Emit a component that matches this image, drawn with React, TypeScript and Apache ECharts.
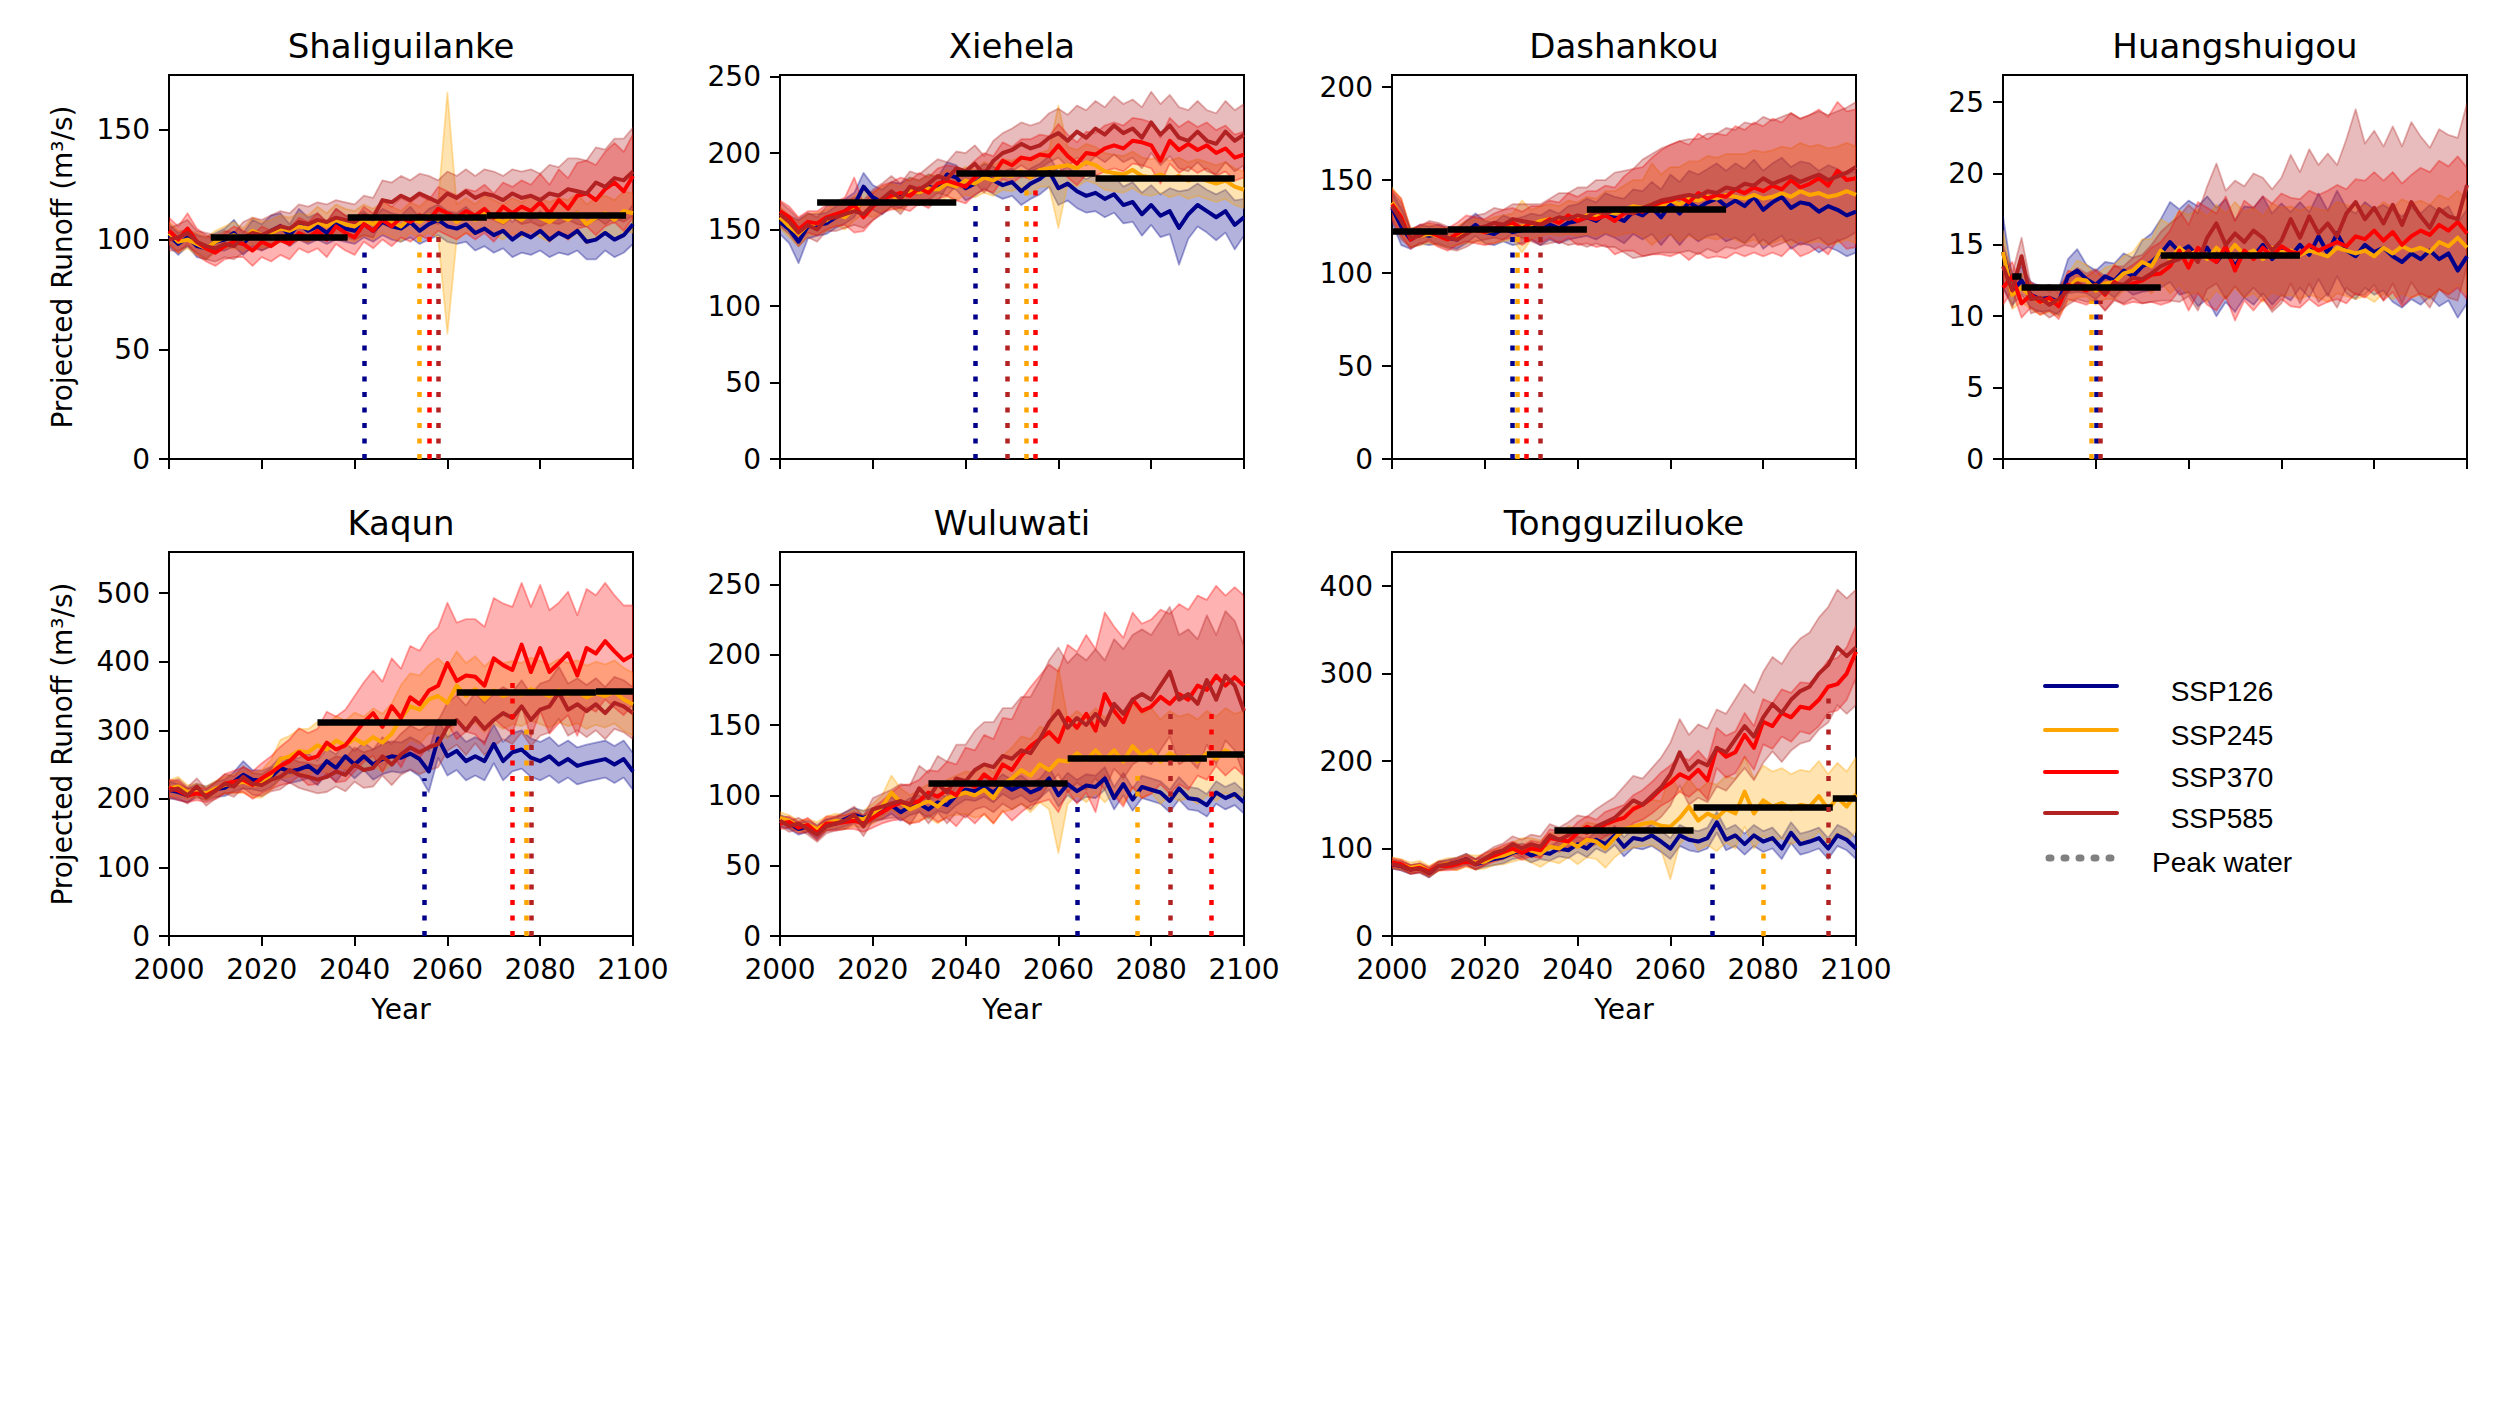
import React, { useEffect, useRef } from "react";
import * as echarts from "echarts";

const YEARS = [
  2000, 2002, 2004, 2006, 2008, 2010, 2012, 2014, 2016, 2018,
  2020, 2022, 2024, 2026, 2028, 2030, 2032, 2034, 2036, 2038,
  2040, 2042, 2044, 2046, 2048, 2050, 2052, 2054, 2056, 2058,
  2060, 2062, 2064, 2066, 2068, 2070, 2072, 2074, 2076, 2078,
  2080, 2082, 2084, 2086, 2088, 2090, 2092, 2094, 2096, 2098,
  2100,
];

// ---------------- Shaliguilanke ----------------
const SHA_126 = [102,98,101,97,96,99,100,103,98,103, 101,104,106,102,107,104,106,103,107,105, 104,107,104,108,106,105,108,104,107,109, 106,105,107,103,105,102,104,100,103,101, 104,100,103,101,104,99,100,103,100,102, 107];
const SHA_126_SD = [5,5,4,5,5,4,5,6,5,6, 6,7,6,5,7,6,6,5,7,6, 6,6,5,6,6,6,7,6,7,7, 7,7,8,8,8,8,8,8,9,8, 9,8,9,8,9,8,9,8,8,8, 9];
const SHA_245 = [103,99,100,98,96,99,101,102,100,104, 102,103,105,104,106,105,108,106,109,107, 106,109,107,110,108,106,110,108,111,109, 112,108,111,109,112,110,108,111,109,112, 110,108,111,109,112,107,110,112,109,113, 112];
const SHA_245_SD = [5,5,4,5,5,5,5,6,5,6, 6,6,6,6,6,6,7,6,7,7, 7,7,7,7,7,7,7,7,8,8, 55,8,8,7,8,8,8,8,8,8, 9,9,8,9,9,9,9,8,9,9, 9];
const SHA_370 = [104,100,105,99,96,94,97,99,98,95, 99,97,100,98,103,101,104,100,106,103, 101,107,104,109,106,110,108,111,109,114, 112,110,113,111,114,110,115,112,115,113, 117,112,118,114,120,121,118,123,126,122, 129];
const SHA_370_SD = [6,6,7,6,6,6,6,7,6,7, 7,7,7,7,7,7,8,8,8,8, 8,8,8,9,9,9,9,9,9,10, 10,10,10,11,11,11,11,12,12,12, 13,13,14,14,15,15,16,17,18,18, 19];
const SHA_585 = [100,101,103,99,97,96,98,97,101,103, 102,104,106,105,108,107,109,108,110,109, 108,111,110,118,117,120,118,121,119,117, 121,119,122,119,121,120,118,121,119,120, 118,121,120,123,122,121,126,124,128,127, 131];
const SHA_585_SD = [5,6,6,5,6,6,6,6,7,7, 7,7,7,7,8,8,8,8,8,8, 8,9,9,9,9,9,9,9,10,10, 10,10,10,10,11,11,11,11,12,12, 12,13,13,14,15,15,16,17,18,19, 20];
const SHA_BARS = [[2009, 2038.5, 101], [2038.5, 2068.5, 110], [2068.5, 2098.5, 111.2]];
const SHA_PEAKS = [[0, 2042, 97], [1, 2054, 103], [2, 2056, 104], [3, 2058, 104]];

// ---------------- Xiehela ----------------
const XIE_126 = [155,150,142,152,153,154,158,162,166,178, 171,168,173,172,176,174,178,176,186,184, 177,180,185,182,179,181,175,180,183,188, 177,180,175,172,174,170,173,166,168,160, 166,159,162,151,160,166,162,158,162,153, 158];
const XIE_126_SD = [8,9,14,8,7,7,7,8,8,9, 8,8,8,8,8,8,8,8,8,8, 8,8,8,9,9,9,9,10,10,10, 11,11,11,11,12,12,12,12,13,14, 13,14,15,24,16,14,14,15,14,16, 12];
const XIE_245 = [158,152,147,153,154,156,160,158,164,168, 166,170,172,170,176,174,177,176,180,178, 182,180,184,182,186,185,188,184,189,190, 191,192,190,194,192,188,187,186,189,185, 184,186,183,185,182,184,182,180,182,178, 176];
const XIE_245_SD = [7,7,8,7,7,7,7,8,8,8, 8,8,8,8,8,8,9,9,9,9, 9,9,10,10,10,10,10,11,11,12, 40,12,12,12,12,12,12,12,12,12, 12,12,12,12,12,12,12,12,12,12, 12];
const XIE_370 = [162,158,150,155,154,158,160,162,166,158, 165,170,172,174,172,177,174,180,182,180, 178,184,188,186,195,192,197,196,199,198, 205,198,193,200,199,203,205,203,208,207, 205,195,208,202,206,202,205,200,203,197, 199];
const XIE_370_SD = [7,7,8,7,8,8,8,9,18,9, 9,9,9,10,10,10,10,10,10,11, 11,11,12,12,12,12,12,13,13,13, 14,14,14,14,14,15,15,15,15,15, 15,15,15,15,15,15,15,15,15,15, 15];
const XIE_585 = [160,155,148,153,150,157,158,160,162,160, 166,170,175,170,178,176,180,185,183,190, 188,193,186,195,200,202,206,203,205,210, 213,208,214,210,216,212,218,213,216,210, 220,212,218,210,208,214,208,206,214,208, 212];
const XIE_585_SD = [8,8,9,8,8,8,9,9,9,9, 10,10,10,10,10,10,11,11,11,11, 12,12,12,13,13,14,14,15,15,16, 16,17,17,18,18,18,19,19,19,20, 20,20,20,20,20,20,20,20,20,20, 20];
const XIE_BARS = [[2008, 2038, 168], [2038, 2068, 186.5], [2068, 2098, 183.5]];
const XIE_PEAKS = [[0, 2042, 168], [3, 2049, 170], [1, 2053, 178], [2, 2055, 178]];

// ---------------- Dashankou ----------------
const DAS_126 = [135,125,118,121,120,121,119,118,122,126, 122,121,124,122,123,125,123,126,124,127, 128,130,128,132,130,128,133,131,135,130, 137,132,138,135,138,140,136,139,136,141, 134,138,141,135,138,137,133,136,134,131, 133];
const DAS_126_SD = [8,10,5,5,5,5,5,5,6,6, 6,6,7,7,7,7,8,8,8,9, 9,10,10,11,11,12,12,13,14,15, 16,17,17,18,18,19,19,20,20,20, 21,21,21,22,22,22,22,22,22,22, 22];
const DAS_245 = [138,130,119,120,121,120,119,120,122,123, 122,123,124,125,125,126,128,129,128,130, 129,131,130,133,132,134,136,135,137,136, 139,137,140,139,141,140,142,141,140,142, 140,141,143,141,144,142,143,141,142,144, 142];
const DAS_245_SD = [8,10,5,5,5,5,5,5,6,6, 6,7,7,7,14,8,8,8,8,9, 9,10,10,11,12,13,14,15,22,17, 18,20,20,21,22,22,22,23,24,24, 25,25,25,26,26,26,26,26,26,26, 26];
const DAS_370 = [137,130,118,121,122,120,118,121,124,123, 122,124,126,127,124,127,126,129,127,131, 128,130,129,131,128,132,134,133,136,138, 139,141,138,143,140,142,141,145,143,146, 144,147,145,150,146,148,151,147,155,150, 151];
const DAS_370_SD = [8,10,5,5,5,6,6,6,7,7, 7,8,8,8,9,9,10,10,11,12, 13,14,15,16,18,20,22,24,26,28, 30,30,31,32,32,33,33,34,34,35, 35,36,36,36,37,37,37,37,37,37, 37];
const DAS_585 = [136,128,119,120,123,121,119,118,121,124, 125,127,126,129,128,127,126,128,130,129, 131,130,133,132,134,133,132,135,137,139, 140,141,142,141,144,143,146,145,148,147, 151,148,150,152,149,151,153,150,152,154, 157];
const DAS_585_SD = [8,10,5,5,5,6,6,6,7,7, 7,8,8,8,9,10,11,12,13,14, 15,16,17,18,20,22,24,26,27,28, 29,30,30,31,31,32,32,32,33,33, 33,34,34,34,34,34,34,35,35,35, 35];
const DAS_BARS = [[2000, 2012, 122.5], [2012, 2042, 123.5], [2042, 2072, 134.5]];
const DAS_PEAKS = [[0, 2026, 121], [1, 2027, 121], [2, 2029, 121], [3, 2032, 121]];

// ---------------- Huangshuigou ----------------
const HUA_126 = [14.5,11.8,12.5,11.5,11.2,11.3,11.0,12.8,13.2,12.6, 12.2,12.8,12.5,13.2,12.8,13.5,13.8,14.4,15.2,14.5, 14.9,14.2,14.8,13.8,14.6,13.5,14.5,14.2,15.0,14.0, 14.7,14.2,15.0,14.3,15.6,14.4,15.8,14.6,14.2,15.0, 14.5,14.8,14.2,13.8,14.4,14.0,14.6,14.0,14.4,13.2, 14.2];
const HUA_126_SD = [2.5,1.0,1.0,0.9,0.9,0.9,0.9,1.2,1.5,1.0, 1.0,1.0,1.2,1.2,1.3,1.8,2.0,2.4,2.8,3.0, 3.2,3.5,3.6,3.8,3.6,3.2,3.2,3.4,3.4,3.2, 3.2,3.1,3.0,3.0,3.0,3.0,3.0,3.0,3.0,3.0, 3.0,3.0,3.2,3.2,3.2,3.2,3.2,3.3,3.3,3.3, 3.3];
const HUA_245 = [14.5,11.5,12.0,11.4,11.0,11.2,10.9,12.0,12.6,12.5, 11.8,12.3,12.4,13.0,13.2,13.8,13.5,14.6,14.0,14.8, 14.3,14.6,14.0,14.8,14.2,15.0,14.3,14.6,14.0,14.8, 14.5,14.6,14.3,14.6,14.4,14.2,14.8,14.6,14.4,14.6, 14.2,14.8,14.4,14.9,14.6,14.8,14.5,15.2,14.9,15.5, 14.8];
const HUA_245_SD = [1.5,1.0,1.0,0.9,0.9,0.9,0.9,1.0,1.3,1.1, 1.0,1.1,1.2,1.2,1.3,1.6,1.9,2.2,2.4,2.6, 2.8,2.9,3.0,3.0,3.0,3.0,3.0,3.0,3.0,3.1, 3.1,3.1,3.1,3.1,3.1,3.2,3.2,3.2,3.2,3.2, 3.2,3.2,3.2,3.3,3.3,3.3,3.3,3.3,3.3,3.3, 3.3];
const HUA_370 = [12.0,12.8,10.9,11.5,11.0,11.3,10.7,12.2,12.0,11.8, 12.2,11.5,12.4,12.0,12.3,12.5,12.9,13.0,13.5,14.6, 13.4,14.8,14.2,13.8,14.9,13.2,14.6,14.0,14.8,14.2, 14.9,14.5,14.4,15.0,14.6,14.9,15.2,14.9,15.6,15.4, 16.0,15.3,15.9,15.0,15.6,16.0,15.7,16.4,16.0,16.6, 15.8];
const HUA_370_SD = [1.2,1.0,1.0,0.9,0.9,0.9,0.9,1.0,1.0,1.0, 1.0,1.1,1.2,1.2,1.3,1.6,1.9,2.2,2.5,2.8, 3.0,3.2,3.4,3.4,3.5,3.5,3.5,3.6,3.6,3.7, 3.7,3.8,3.8,3.8,3.9,3.9,4.0,4.0,4.0,4.1, 4.1,4.2,4.2,4.3,4.3,4.4,4.4,4.5,4.5,4.6, 4.6];
const HUA_585 = [13.5,11.8,14.2,11.2,11.3,10.8,11.2,11.8,12.3,12.0, 12.2,11.6,12.3,12.2,12.7,12.6,13.0,13.5,13.8,14.0, 14.6,13.8,15.5,16.5,15.0,15.8,15.2,16.0,15.5,14.6, 15.3,16.8,15.5,17.0,15.8,16.5,15.6,17.2,18.0,16.8, 17.6,16.5,17.8,16.4,18.0,17.0,16.2,17.5,17.0,16.8, 19.2];
const HUA_585_SD = [1.5,1.2,1.3,1.0,0.9,0.9,0.9,1.0,1.1,1.0, 1.1,1.2,1.2,1.3,1.4,1.7,2.0,2.4,2.7,3.0, 3.2,3.4,3.6,4.2,3.8,3.7,3.9,4.0,4.2,4.3, 4.4,4.5,4.6,4.7,4.8,4.9,5.0,5.2,6.5,5.3, 5.4,5.4,5.5,5.5,5.6,5.6,5.6,5.6,5.7,5.7, 5.7];
const HUA_BARS = [[2002, 2004, 12.8], [2004, 2034, 12.0], [2034, 2064, 14.3]];
const HUA_PEAKS = [[1, 2019, 11.1], [0, 2020, 11.1], [3, 2021, 11.1]];

// ---------------- Kaqun ----------------
const KAQ_126 = [213,210,205,212,208,214,216,225,235,228, 226,232,245,240,243,248,238,255,245,262, 250,262,250,258,262,260,266,258,240,288, 262,270,255,262,255,280,255,268,272,260, 255,262,250,258,248,252,255,258,250,258, 240];
const KAQ_126_SD = [12,12,10,10,10,11,12,14,20,14, 15,15,16,17,17,18,18,18,20,20, 20,20,22,22,22,22,24,25,30,28, 28,28,28,28,28,28,28,28,28,28, 28,28,27,27,27,27,27,27,27,27, 27];
const KAQ_245 = [215,218,210,212,208,215,220,222,225,220, 222,235,258,262,270,268,278,272,285,278, 288,280,290,282,295,318,335,330,345,350, 340,365,350,360,345,358,350,355,352,360, 355,350,358,352,356,348,354,350,356,345, 338];
const KAQ_245_SD = [12,14,10,10,10,11,12,14,16,18, 20,22,28,30,32,34,34,35,36,36, 38,40,42,42,44,48,48,50,50,55, 52,50,48,48,48,48,48,46,46,46, 46,46,46,46,46,46,46,46,46,46, 46];
const KAQ_370 = [216,212,205,208,205,212,222,225,228,220, 230,238,248,255,268,258,262,282,272,278, 295,312,325,305,335,318,348,338,358,365, 398,372,380,378,365,405,395,388,425,385, 420,385,398,412,380,420,412,430,415,402, 410];
const KAQ_370_SD = [12,14,10,10,10,12,14,16,18,20, 22,24,28,32,35,38,40,45,48,52, 55,58,62,66,70,72,75,78,80,85, 88,85,82,84,86,88,90,92,90,95, 92,90,88,90,88,86,85,85,82,80, 72];
const KAQ_585 = [212,215,205,218,202,212,222,218,232,222, 220,228,232,242,235,232,228,232,240,235, 250,242,245,262,250,265,275,268,275,280, 305,315,300,318,302,315,325,318,335,315, 330,335,355,330,338,328,338,325,340,335, 325];
const KAQ_585_SD = [12,14,12,12,12,12,14,15,16,16, 16,17,18,18,19,20,20,22,22,24, 25,26,27,28,30,30,32,32,33,34, 35,36,36,37,38,38,38,38,38,38, 38,38,38,38,38,38,38,38,38,38, 38];
const KAQ_BARS = [[2032, 2062, 311.6], [2062, 2092, 355], [2092, 2100, 357]];
const KAQ_PEAKS = [[0, 2055, 230], [2, 2074, 373], [1, 2077, 305], [3, 2078, 305]];

// ---------------- Wuluwati ----------------
const WUL_126 = [82,80,76,78,74,79,80,83,86,84, 86,88,93,88,92,94,90,95,93,100, 104,103,106,102,108,104,107,102,105,112, 100,108,103,107,106,112,98,108,97,106, 104,102,96,105,98,97,93,102,98,101, 95];
const WUL_126_SD = [4,4,4,4,5,4,4,5,5,5, 5,5,6,6,6,6,6,6,6,7, 7,7,7,7,7,7,7,7,7,8, 8,8,8,8,8,8,8,8,8,8, 8,8,8,8,8,8,8,8,8,8, 8];
const WUL_245 = [84,82,78,79,76,80,82,81,84,83, 87,92,102,95,90,93,96,92,98,100, 102,100,104,98,108,112,118,114,122,118, 125,124,130,125,132,125,132,124,135,128, 132,124,130,126,128,124,130,126,132,128, 130];
const WUL_245_SD = [4,4,4,4,5,5,5,5,6,6, 7,8,12,10,10,11,12,12,13,14, 15,16,18,18,20,22,24,26,27,28, 66,30,30,30,30,30,30,30,30,30, 30,30,30,30,30,30,30,30,30,30, 30];
const WUL_370 = [80,81,77,79,73,80,80,81,82,80, 84,88,92,95,94,96,102,99,104,100, 110,106,115,110,122,118,128,135,140,145, 138,155,148,158,146,172,160,152,168,160, 163,170,165,172,168,178,175,185,178,184, 178];
const WUL_370_SD = [4,4,4,5,5,5,5,5,6,6, 7,8,10,12,14,15,16,18,20,22, 24,26,28,30,33,36,40,42,45,48, 50,52,54,56,58,58,60,60,62,62, 62,62,64,64,64,64,64,64,64,64, 64];
const WUL_585 = [82,78,80,76,72,78,80,82,86,78, 90,92,94,96,93,105,98,108,102,112, 110,118,122,120,128,126,132,130,140,152, 160,148,155,150,158,150,165,158,168,172, 168,178,188,168,172,165,182,168,185,178, 160];
const WUL_585_SD = [4,4,4,4,5,5,5,6,6,7, 8,9,10,12,14,16,18,20,22,24, 26,28,30,32,34,36,38,40,42,44, 45,46,46,46,46,46,46,46,46,46, 46,46,46,46,46,46,46,46,46,46, 46];
const WUL_BARS = [[2032, 2062, 108.4], [2062, 2092, 126.7], [2092, 2100, 129.3]];
const WUL_PEAKS = [[0, 2064, 93], [1, 2077, 115], [3, 2084, 160], [2, 2093, 160]];

// ---------------- Tongguziluoke ----------------
const TON_126 = [82,80,76,78,72,80,82,84,88,82, 85,88,90,95,98,92,96,94,100,98, 105,100,110,105,115,102,112,110,115,108, 100,115,110,108,112,130,110,115,105,115, 108,112,100,118,105,108,112,100,115,110, 100];
const TON_126_SD = [5,5,5,5,5,5,5,5,6,6, 6,7,7,7,8,8,8,8,9,9, 9,10,10,10,11,11,11,11,12,12, 12,12,12,12,12,12,12,12,12,12, 12,12,12,12,12,12,12,12,12,12, 12];
const TON_245 = [84,82,78,80,74,80,83,82,86,84, 85,90,92,96,100,98,94,102,100,108, 102,110,108,100,112,122,125,128,130,126, 125,135,148,132,140,135,145,140,165,140, 155,148,152,145,150,148,160,145,158,148, 162];
const TON_245_SD = [6,6,6,6,6,6,6,7,7,8, 8,9,10,11,12,14,15,16,17,18, 20,20,20,22,22,24,24,25,26,28, 60,30,32,34,36,38,38,40,40,40, 40,40,40,40,40,40,40,40,40,40, 42];
const TON_370 = [84,82,76,78,74,80,80,82,86,82, 88,92,96,100,95,100,98,112,110,108, 118,125,120,128,132,135,145,150,158,168, 175,185,180,190,178,215,205,210,230,215, 245,240,255,250,262,260,270,285,288,300, 325];
const TON_370_SD = [5,5,5,5,5,5,5,6,6,6, 7,7,8,8,8,9,9,10,10,11, 12,12,13,14,14,15,16,17,18,19, 20,20,21,22,22,23,24,24,25,25, 26,26,27,28,28,29,30,30,30,30, 30];
const TON_585 = [82,80,76,77,72,80,82,84,88,82, 88,95,98,105,100,105,102,115,110,115, 122,118,125,130,135,145,155,150,160,170, 185,210,190,200,195,215,210,225,240,228, 250,265,255,270,280,285,300,310,330,320, 330];
const TON_585_SD = [5,5,5,5,5,5,5,6,6,6, 7,7,8,9,10,11,12,13,14,15, 16,18,20,22,24,26,28,30,32,34, 36,38,40,42,42,44,44,46,48,50, 52,54,56,58,60,62,64,66,66,66, 66];
const TON_BARS = [[2035, 2065, 120.4], [2065, 2095, 147], [2095, 2100, 158]];
const TON_PEAKS = [[0, 2069, 98], [1, 2080, 100], [3, 2094, 277]];

// ---------------- panel meta ----------------
const STATIONS = ["Shaliguilanke", "Xiehela", "Dashankou", "Huangshuigou", "Kaqun", "Wuluwati", "Tongguziluoke"];
const SCENARIOS = ["SSP126", "SSP245", "SSP370", "SSP585"];
const PEAK_LABEL = "Peak water";
const Y_MAX = [175, 251, 206.5, 26.9, 560, 273, 439];
const Y_INTERVAL = [50, 50, 50, 5, 100, 50, 100];
const Y_TICKS = [
  [0, 50, 100, 150],
  [0, 50, 100, 150, 200, 250],
  [0, 50, 100, 150, 200],
  [0, 5, 10, 15, 20, 25],
  [0, 100, 200, 300, 400, 500],
  [0, 50, 100, 150, 200, 250],
  [0, 100, 200, 300, 400],
];
const X_TICKS = [2000, 2020, 2040, 2060, 2080, 2100];
const Y_LABEL = "Projected Runoff (m³/s)";
const X_LABEL = "Year";

const MEANS = [
  [SHA_126, SHA_245, SHA_370, SHA_585],
  [XIE_126, XIE_245, XIE_370, XIE_585],
  [DAS_126, DAS_245, DAS_370, DAS_585],
  [HUA_126, HUA_245, HUA_370, HUA_585],
  [KAQ_126, KAQ_245, KAQ_370, KAQ_585],
  [WUL_126, WUL_245, WUL_370, WUL_585],
  [TON_126, TON_245, TON_370, TON_585],
];
const SPREADS = [
  [SHA_126_SD, SHA_245_SD, SHA_370_SD, SHA_585_SD],
  [XIE_126_SD, XIE_245_SD, XIE_370_SD, XIE_585_SD],
  [DAS_126_SD, DAS_245_SD, DAS_370_SD, DAS_585_SD],
  [HUA_126_SD, HUA_245_SD, HUA_370_SD, HUA_585_SD],
  [KAQ_126_SD, KAQ_245_SD, KAQ_370_SD, KAQ_585_SD],
  [WUL_126_SD, WUL_245_SD, WUL_370_SD, WUL_585_SD],
  [TON_126_SD, TON_245_SD, TON_370_SD, TON_585_SD],
];
const BARS = [SHA_BARS, XIE_BARS, DAS_BARS, HUA_BARS, KAQ_BARS, WUL_BARS, TON_BARS];
const PEAKS = [SHA_PEAKS, XIE_PEAKS, DAS_PEAKS, HUA_PEAKS, KAQ_PEAKS, WUL_PEAKS, TON_PEAKS];

const COLORS = ["#00008B", "#FFA500", "#FF0000", "#B22222"];
const BAND_FILL = ["rgba(0,0,139,0.3)", "rgba(255,165,0,0.3)", "rgba(255,0,0,0.3)", "rgba(178,34,34,0.3)"];
const BAND_EDGE = ["rgba(0,0,139,0.35)", "rgba(255,165,0,0.35)", "rgba(255,0,0,0.35)", "rgba(178,34,34,0.35)"];

const FONT = "'DejaVu Sans', sans-serif";
const LEGEND_FONT = "'Liberation Sans', Arial, sans-serif";

const GRID_LEFT = [169, 780, 1392, 2003, 169, 780, 1392];
const ROW_TOP = [75, 552];
const GW = 464;
const GH = 384;

function textEl(x: number, y: number, text: string, size: number, family: string, extra: any = {}) {
  return {
    type: "text",
    x,
    y,
    silent: true,
    ...extra,
    style: {
      text,
      fontSize: size,
      fontFamily: family,
      fill: "#000",
      align: "center",
      verticalAlign: "middle",
      textAlign: "center",
      textVerticalAlign: "middle",
    },
  };
}

function bandSeries(p: number, s: number) {
  const m = MEANS[p][s];
  const sd = SPREADS[p][s];
  const data = YEARS.map((yr, i) => [yr, m[i] - sd[i], m[i] + sd[i]]);
  return {
    type: "custom",
    xAxisIndex: p,
    yAxisIndex: p,
    silent: true,
    clip: true,
    encode: { x: 0, y: [1, 2] },
    data,
    z: 1,
    renderItem: (params: any, api: any) => {
      if (params.dataIndex !== 0) return { type: "group", children: [] };
      const upper = data.map((d) => api.coord([d[0], d[2]]));
      const lower = data.map((d) => api.coord([d[0], d[1]])).reverse();
      return {
        type: "polygon",
        silent: true,
        shape: { points: upper.concat(lower) },
        style: { fill: BAND_FILL[s], stroke: BAND_EDGE[s], lineWidth: 1.8, lineJoin: "round" },
      };
    },
  };
}

function buildOption() {
  const grid: any[] = [];
  const xAxis: any[] = [];
  const yAxis: any[] = [];
  const series: any[] = [];
  const graphic: any[] = [];

  for (let p = 0; p < STATIONS.length; p++) {
    const row = p < 4 ? 0 : 1;
    const top = ROW_TOP[row];
    grid.push({
      left: GRID_LEFT[p],
      top,
      width: GW,
      height: GH,
      show: true,
      borderColor: "#000",
      borderWidth: 2,
      backgroundColor: "transparent",
      containLabel: false,
    });
    xAxis.push({
      type: "value",
      gridIndex: p,
      min: 2000,
      max: 2100,
      interval: 20,
      axisLine: { show: true, onZero: false, lineStyle: { color: "#000", width: 2 } },
      axisTick: { show: true, length: 10, lineStyle: { color: "#000", width: 2 }, customValues: X_TICKS },
      axisLabel: {
        show: row === 1,
        customValues: X_TICKS,
        formatter: (v: number) => String(v),
        fontSize: 28,
        fontFamily: FONT,
        color: "#000",
        margin: 19,
      },
      splitLine: { show: false },
    });
    yAxis.push({
      type: "value",
      gridIndex: p,
      min: 0,
      max: Y_MAX[p],
      interval: Y_INTERVAL[p],
      axisLine: { show: true, onZero: false, lineStyle: { color: "#000", width: 2 } },
      axisTick: { show: true, length: 10, lineStyle: { color: "#000", width: 2 }, customValues: Y_TICKS[p] },
      axisLabel: {
        show: true,
        customValues: Y_TICKS[p],
        formatter: (v: number) => String(v),
        fontSize: 28,
        fontFamily: FONT,
        color: "#000",
        margin: 19,
      },
      splitLine: { show: false },
    });

    // uncertainty bands
    for (let s = 0; s < 4; s++) series.push(bandSeries(p, s));

    // ensemble means
    for (let s = 0; s < 4; s++) {
      const m = MEANS[p][s];
      series.push({
        type: "line",
        name: SCENARIOS[s],
        xAxisIndex: p,
        yAxisIndex: p,
        data: YEARS.map((yr, i) => [yr, m[i]]),
        symbol: "none",
        silent: true,
        lineStyle: { color: COLORS[s], width: 4, join: "round" },
        z: 3,
      });
    }
    // plateau bars
    series.push({
      type: "lines",
      coordinateSystem: "cartesian2d",
      xAxisIndex: p,
      yAxisIndex: p,
      silent: true,
      data: BARS[p].map((b) => ({ coords: [[b[0], b[2]], [b[1], b[2]]] })),
      lineStyle: { color: "#000", width: 6.5, opacity: 1 },
      z: 4,
    });
    // peak water lines
    series.push({
      type: "lines",
      coordinateSystem: "cartesian2d",
      xAxisIndex: p,
      yAxisIndex: p,
      silent: true,
      data: PEAKS[p].map((pk) => ({
        coords: [[pk[1], 0], [pk[1], pk[2]]],
        lineStyle: { color: COLORS[pk[0]], width: 4.5, type: [5, 10.5], opacity: 1 },
      })),
      lineStyle: { width: 4.5, opacity: 1 },
      z: 5,
    });

    graphic.push(textEl(GRID_LEFT[p] + GW / 2, row === 0 ? 46 : 523, STATIONS[p], 34, FONT));
    if (row === 1) {
      graphic.push(textEl(GRID_LEFT[p] + GW / 2, 1009, X_LABEL, 28, FONT));
    }
  }

  graphic.push(textEl(62, ROW_TOP[0] + GH / 2, Y_LABEL, 28, FONT, { rotation: Math.PI / 2 }));
  graphic.push(textEl(62, ROW_TOP[1] + GH / 2, Y_LABEL, 28, FONT, { rotation: Math.PI / 2 }));

  const legendY = [686, 730, 772, 813];
  for (let s = 0; s < 4; s++) {
    graphic.push({
      type: "line",
      silent: true,
      shape: { x1: 2045, y1: legendY[s], x2: 2117, y2: legendY[s] },
      style: { stroke: COLORS[s], lineWidth: 4, lineCap: "round" },
    });
    graphic.push(textEl(2222, legendY[s] + 5, SCENARIOS[s], 28, LEGEND_FONT));
  }
  graphic.push({
    type: "line",
    silent: true,
    shape: { x1: 2049, y1: 858, x2: 2115, y2: 858 },
    style: { stroke: "#808080", lineWidth: 7, lineCap: "round", lineDash: [2, 13] },
  });
  graphic.push(textEl(2222, 862, PEAK_LABEL, 28, LEGEND_FONT));

  return {
    animation: false,
    backgroundColor: "#fff",
    grid,
    xAxis,
    yAxis,
    series,
    graphic,
  };
}

export default function App() {
  const ref = useRef<HTMLDivElement>(null);
  useEffect(() => {
    if (!ref.current) return;
    const chart = echarts.init(ref.current, undefined, { renderer: "svg" });
    chart.setOption(buildOption() as any);
    return () => {
      chart.dispose();
    };
  }, []);
  return (
    <div
      ref={ref}
      style={{ position: "fixed", left: 0, top: 0, width: 2500, height: 1406, background: "#fff" }}
    />
  );
}
